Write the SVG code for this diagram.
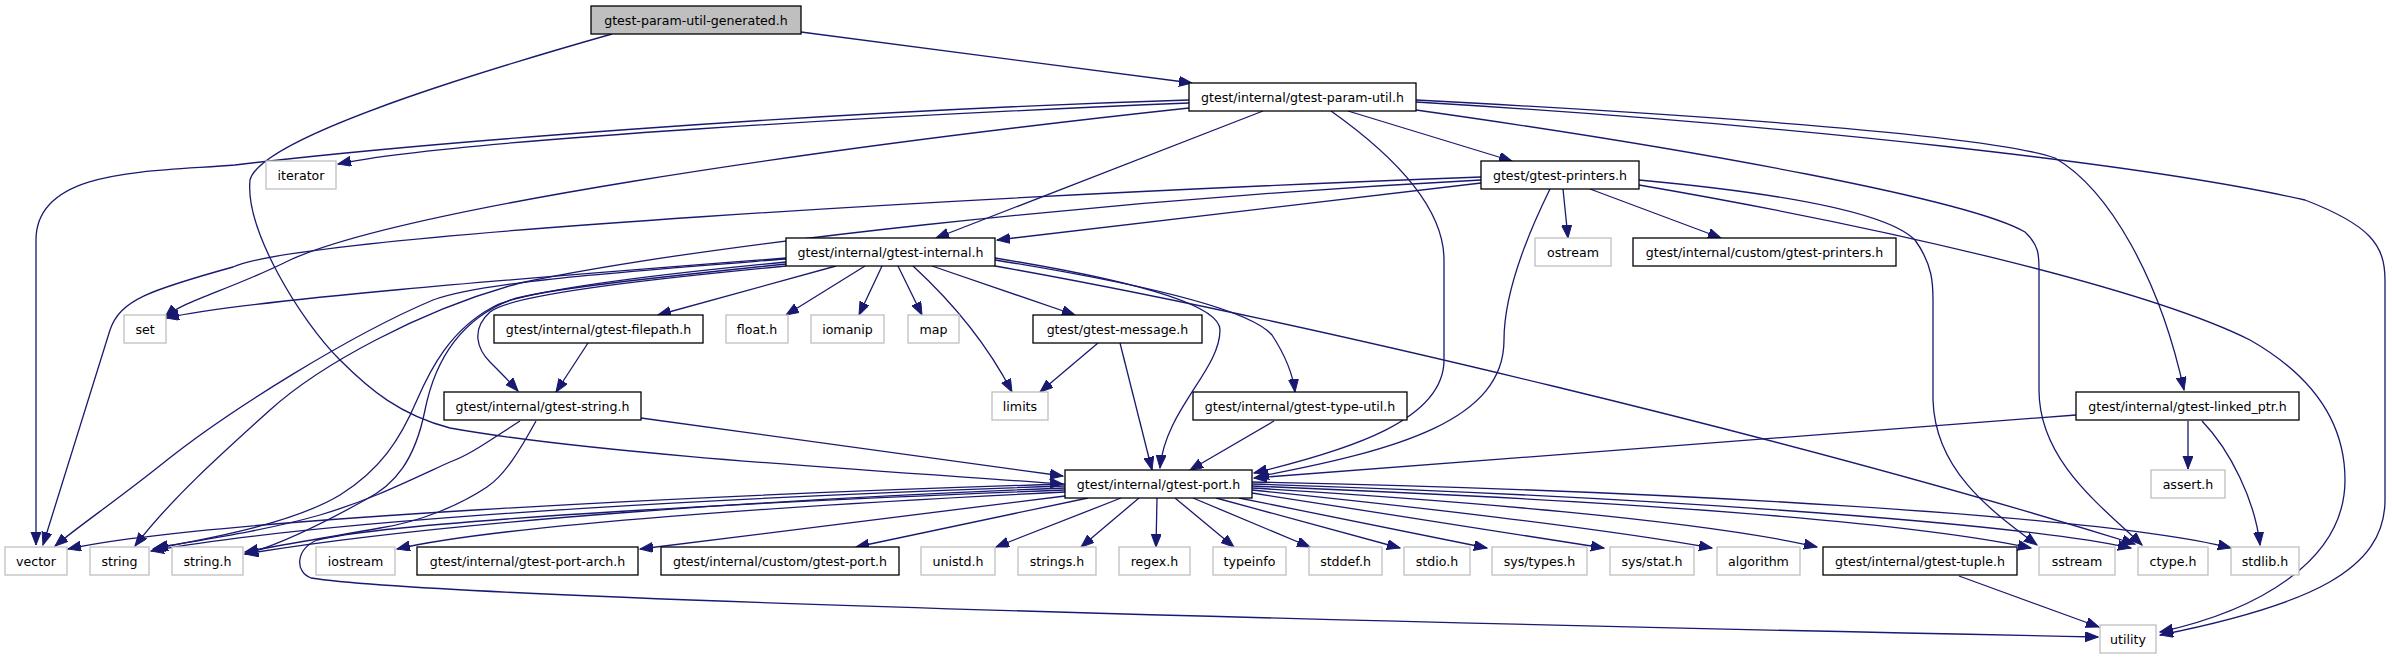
<svg xmlns="http://www.w3.org/2000/svg" width="2392" height="659" viewBox="0 0 2392 659">
<style>
.e{fill:none;stroke:#191970;stroke-width:1.3}
.n rect{fill:#fff;stroke:#000;stroke-width:1.3}
.g rect{fill:#fff;stroke:#bfbfbf;stroke-width:1.3}
.r rect{fill:#bfbfbf;stroke:#000;stroke-width:1.3}
text{font-family:"DejaVu Sans",Verdana,sans-serif;font-size:12.6px;fill:#000;text-anchor:middle}
</style>
<defs>
<marker id="a" markerUnits="userSpaceOnUse" markerWidth="14" markerHeight="11" refX="13" refY="5" orient="auto">
<path d="M0,0 L13,5 L0,10 z" fill="#191970" stroke="#191970" stroke-width="1"/>
</marker>
</defs>
<g id="edges" marker-end="url(#a)">
<path class="e" d="M801,32 L1192,83"/>
<path class="e" d="M612,34 C450,80 260,140 250,180 C245,230 300,320 340,360 C370,390 400,415 450,428 C600,455 900,472 1063,484"/>
<path class="e" d="M1189,103 C900,115 450,140 338,164"/>
<path class="e" d="M1189,100 C800,112 400,145 235,165 C150,172 36,168 36,240 L36,545"/>
<path class="e" d="M1189,108 C800,150 400,210 290,260 C230,290 185,300 165,317"/>
<path class="e" d="M1263,111 L936,238"/>
<path class="e" d="M1331,111 C1400,160 1444,210 1444,260 L1444,360 C1444,420 1350,450 1254,473"/>
<path class="e" d="M1348,111 L1512,161"/>
<path class="e" d="M1416,100 C1700,115 1990,135 2055,158 C2110,190 2160,280 2184,390"/>
<path class="e" d="M1416,102 C1800,125 2150,165 2305,200 C2370,225 2385,245 2385,280 L2385,500 C2385,570 2310,605 2160,635"/>
<path class="e" d="M1416,110 C1700,150 1970,200 2025,232 C2039,245 2039,255 2039,270 L2039,390 C2039,460 2100,505 2142,545"/>
<path class="e" d="M1481,183 L997,240"/>
<path class="e" d="M1481,177 C1000,195 300,235 233,267 C150,290 120,300 110,330 L43,545"/>
<path class="e" d="M1481,180 C1100,200 700,245 520,283 C420,310 320,365 270,410 C220,455 170,500 135,546"/>
<path class="e" d="M1563,189 L1568,238"/>
<path class="e" d="M1590,189 L1721,238"/>
<path class="e" d="M1550,189 C1520,250 1504,300 1504,340 C1504,420 1400,450 1256,477"/>
<path class="e" d="M1639,180 C1800,195 1890,215 1915,240 C1933,265 1933,285 1933,300 L1933,400 C1935,470 1990,510 2037,545"/>
<path class="e" d="M1639,185 C1900,230 2150,290 2250,340 C2320,380 2345,430 2345,480 C2345,560 2260,610 2160,632"/>
<path class="e" d="M786,258 C500,280 250,300 166,318"/>
<path class="e" d="M786,259 C620,272 480,282 433,300 C350,335 230,410 167,460 C120,498 80,525 55,546"/>
<path class="e" d="M786,262 C640,276 520,292 493,307 C450,330 430,370 417,400 C400,440 380,470 340,495 C290,525 200,540 153,549"/>
<path class="e" d="M786,264 C650,278 540,290 510,300 C460,320 435,360 425,410 C415,460 395,485 365,500 C320,525 280,545 245,554"/>
<path class="e" d="M786,266 C640,280 510,295 490,312 C470,330 478,350 490,362 C500,372 510,382 518,391"/>
<path class="e" d="M836,266 L658,315"/>
<path class="e" d="M865,266 L786,315"/>
<path class="e" d="M882,266 L859,315"/>
<path class="e" d="M898,266 L922,315"/>
<path class="e" d="M913,266 C950,300 985,340 1012,392"/>
<path class="e" d="M932,266 L1075,315"/>
<path class="e" d="M995,258 C1100,275 1220,300 1220,330 C1220,370 1165,410 1160,468"/>
<path class="e" d="M995,260 C1150,285 1250,310 1272,335 C1285,355 1293,375 1295,392"/>
<path class="e" d="M995,266 C1300,320 1800,440 2135,544"/>
<path class="e" d="M1098,343 L1040,392"/>
<path class="e" d="M1120,343 L1152,470"/>
<path class="e" d="M1274,421 L1190,470"/>
<path class="e" d="M588,343 L556,392"/>
<path class="e" d="M520,421 C490,440 470,455 450,462 C400,485 370,500 320,515 C260,532 200,540 155,548"/>
<path class="e" d="M536,421 C520,450 505,475 487,487 C460,505 420,522 380,528 C330,537 280,545 245,552"/>
<path class="e" d="M641,418 L1063,476"/>
<path class="e" d="M2076,415 L1254,478"/>
<path class="e" d="M2188,421 L2188,469"/>
<path class="e" d="M2202,421 C2230,450 2255,500 2260,545"/>
<path class="e" d="M1959,576 L2099,627"/>
<path class="e" d="M1065,484 C700,495 200,520 68,549"/>
<path class="e" d="M1065,486 C800,495 350,515 151,551"/>
<path class="e" d="M1065,488 C800,498 450,520 245,554"/>
<path class="e" d="M1065,490 C800,500 400,520 317,540 C295,550 295,572 311,578 C450,600 1500,625 2098,637"/>
<path class="e" d="M1065,492 C800,505 500,525 397,549"/>
<path class="e" d="M1065,496 L640,549"/>
<path class="e" d="M1088,498 L856,547"/>
<path class="e" d="M1121,498 L996,547"/>
<path class="e" d="M1139,498 L1081,547"/>
<path class="e" d="M1157,498 L1156,547"/>
<path class="e" d="M1175,498 L1234,547"/>
<path class="e" d="M1193,498 L1310,547"/>
<path class="e" d="M1216,498 L1400,548"/>
<path class="e" d="M1239,498 L1487,548"/>
<path class="e" d="M1252,493 L1604,548"/>
<path class="e" d="M1252,490 C1400,505 1600,528 1712,548"/>
<path class="e" d="M1252,488 C1450,500 1700,520 1817,547"/>
<path class="e" d="M1252,486 C1600,500 1900,520 2031,548"/>
<path class="e" d="M1252,484 C1600,495 2000,520 2131,548"/>
<path class="e" d="M1252,482 C1650,490 2100,515 2231,548"/>
</g>
<g id="n_root" class="r"><rect x="591" y="6" width="210" height="28"/><text x="696" y="24.5">gtest-param-util-generated.h</text></g>
<g id="n_paramutil" class="n"><rect x="1189" y="83" width="227" height="28"/><text x="1302.5" y="101.5">gtest/internal/gtest-param-util.h</text></g>
<g id="n_iterator" class="g"><rect x="266" y="161" width="70" height="28"/><text x="301" y="179.5">iterator</text></g>
<g id="n_printers" class="n"><rect x="1481" y="161" width="158" height="28"/><text x="1560" y="179.5">gtest/gtest-printers.h</text></g>
<g id="n_internal" class="n"><rect x="786" y="238" width="209" height="28"/><text x="890.5" y="256.5">gtest/internal/gtest-internal.h</text></g>
<g id="n_ostream" class="g"><rect x="1535" y="238" width="76" height="28"/><text x="1573" y="256.5">ostream</text></g>
<g id="n_cprinters" class="n"><rect x="1633" y="238" width="263" height="28"/><text x="1764.5" y="256.5">gtest/internal/custom/gtest-printers.h</text></g>
<g id="n_set" class="g"><rect x="124" y="315" width="42" height="28"/><text x="145" y="333.5">set</text></g>
<g id="n_filepath" class="n"><rect x="494" y="315" width="209" height="28"/><text x="598.5" y="333.5">gtest/internal/gtest-filepath.h</text></g>
<g id="n_float" class="g"><rect x="726" y="315" width="62" height="28"/><text x="757" y="333.5">float.h</text></g>
<g id="n_iomanip" class="g"><rect x="811" y="315" width="73" height="28"/><text x="847.5" y="333.5">iomanip</text></g>
<g id="n_map" class="g"><rect x="908" y="315" width="51" height="28"/><text x="933.5" y="333.5">map</text></g>
<g id="n_message" class="n"><rect x="1033" y="315" width="169" height="28"/><text x="1117.5" y="333.5">gtest/gtest-message.h</text></g>
<g id="n_gstring" class="n"><rect x="444" y="392" width="197" height="28"/><text x="542.5" y="410.5">gtest/internal/gtest-string.h</text></g>
<g id="n_limits" class="g"><rect x="992" y="392" width="56" height="28"/><text x="1020" y="410.5">limits</text></g>
<g id="n_typeutil" class="n"><rect x="1193" y="392" width="214" height="28"/><text x="1300" y="410.5">gtest/internal/gtest-type-util.h</text></g>
<g id="n_linked" class="n"><rect x="2076" y="392" width="223" height="28"/><text x="2187.5" y="410.5">gtest/internal/gtest-linked_ptr.h</text></g>
<g id="n_port" class="n"><rect x="1065" y="470" width="187" height="28"/><text x="1158.5" y="488.5">gtest/internal/gtest-port.h</text></g>
<g id="n_assert" class="g"><rect x="2151" y="470" width="74" height="28"/><text x="2188" y="488.5">assert.h</text></g>
<g id="n_vector" class="g"><rect x="5" y="547" width="62" height="28"/><text x="36" y="565.5">vector</text></g>
<g id="n_string" class="g"><rect x="90" y="547" width="59" height="28"/><text x="119.5" y="565.5">string</text></g>
<g id="n_stringh" class="g"><rect x="172" y="547" width="71" height="28"/><text x="207.5" y="565.5">string.h</text></g>
<g id="n_iostream" class="g"><rect x="316" y="547" width="79" height="28"/><text x="355.5" y="565.5">iostream</text></g>
<g id="n_portarch" class="n"><rect x="417" y="547" width="221" height="28"/><text x="527.5" y="565.5">gtest/internal/gtest-port-arch.h</text></g>
<g id="n_cport" class="n"><rect x="661" y="547" width="238" height="28"/><text x="780" y="565.5">gtest/internal/custom/gtest-port.h</text></g>
<g id="n_unistd" class="g"><rect x="921" y="547" width="74" height="28"/><text x="958" y="565.5">unistd.h</text></g>
<g id="n_strings" class="g"><rect x="1018" y="547" width="78" height="28"/><text x="1057" y="565.5">strings.h</text></g>
<g id="n_regex" class="g"><rect x="1119" y="547" width="71" height="28"/><text x="1154.5" y="565.5">regex.h</text></g>
<g id="n_typeinfo" class="g"><rect x="1213" y="547" width="73" height="28"/><text x="1249.5" y="565.5">typeinfo</text></g>
<g id="n_stddef" class="g"><rect x="1309" y="547" width="73" height="28"/><text x="1345.5" y="565.5">stddef.h</text></g>
<g id="n_stdio" class="g"><rect x="1404" y="547" width="66" height="28"/><text x="1437" y="565.5">stdio.h</text></g>
<g id="n_systypes" class="g"><rect x="1492" y="547" width="95" height="28"/><text x="1539.5" y="565.5">sys/types.h</text></g>
<g id="n_sysstat" class="g"><rect x="1610" y="547" width="84" height="28"/><text x="1652" y="565.5">sys/stat.h</text></g>
<g id="n_algorithm" class="g"><rect x="1717" y="547" width="83" height="28"/><text x="1758.5" y="565.5">algorithm</text></g>
<g id="n_tuple" class="n"><rect x="1823" y="547" width="194" height="28"/><text x="1920" y="565.5">gtest/internal/gtest-tuple.h</text></g>
<g id="n_sstream" class="g"><rect x="2039" y="547" width="76" height="28"/><text x="2077" y="565.5">sstream</text></g>
<g id="n_ctype" class="g"><rect x="2138" y="547" width="70" height="28"/><text x="2173" y="565.5">ctype.h</text></g>
<g id="n_stdlib" class="g"><rect x="2231" y="547" width="68" height="28"/><text x="2265" y="565.5">stdlib.h</text></g>
<g id="n_utility" class="g"><rect x="2100" y="625" width="56" height="28"/><text x="2128" y="643.5">utility</text></g>
</svg>
